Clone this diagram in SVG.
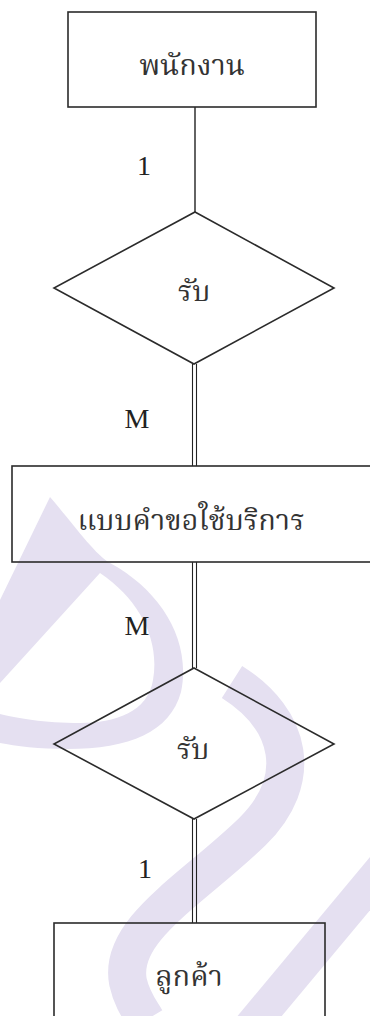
<svg xmlns="http://www.w3.org/2000/svg" width="370" height="1016" viewBox="0 0 370 1016">
<style>
.node{fill:none;stroke:#2b2b2b;stroke-width:1.6}
.conn{stroke:#222;stroke-width:1.4;fill:none}
.dbl{stroke:#222;stroke-width:1.1;fill:none}
.th{font-family:"Noto Serif Thai","Liberation Serif","Noto Sans CJK SC",serif;font-size:29px;fill:#333;text-anchor:middle}
.lbl{font-family:"Liberation Serif",serif;font-size:28px;fill:#222;text-anchor:middle}
.wm{fill:none;stroke:#e5e0f1;stroke-linecap:butt}
</style>
<rect width="370" height="1016" fill="#fff"/>
<g id="watermark">
<path d="M50,497 C70,520 95,555 110,563 C160,590 192,640 181,692 C170,732 130,749 67,749 C40,749 15,746 0,743 L0,600 Z M100,573 C140,600 160,640 153,680 C148,712 115,723 80,723 C45,723 15,718 0,714 L0,683 Z" fill="#e5e0f1" fill-rule="evenodd"/>
<path class="wm" stroke-width="38" d="M232,682 C292,720 305,780 252,832 C192,890 118,930 128,982 C132,1000 140,1010 146,1020"/>
<path class="wm" stroke-width="34" d="M388,862 L248,1030"/>
</g>
<g id="connectors">
<line class="conn" x1="195" y1="107" x2="195" y2="212"/>
<line class="dbl" x1="192.5" y1="364" x2="192.5" y2="466"/>
<line class="dbl" x1="196.5" y1="364" x2="196.5" y2="466"/>
<line class="dbl" x1="192.5" y1="562" x2="192.5" y2="668"/>
<line class="dbl" x1="196.5" y1="562" x2="196.5" y2="668"/>
<line class="dbl" x1="192.5" y1="819" x2="192.5" y2="923"/>
<line class="dbl" x1="196.5" y1="819" x2="196.5" y2="923"/>
<text class="lbl" x="144" y="175">1</text>
<text class="lbl" x="137" y="428">M</text>
<text class="lbl" x="137" y="635">M</text>
<text class="lbl" x="145" y="878">1</text>
</g>
<g id="employee">
<rect class="node" x="68" y="12" width="248" height="95"/>
<text class="th" x="192" y="75">พนักงาน</text>
</g>
<g id="receive1">
<polygon class="node" points="195,212 334,288 194,364 54,288"/>
<text class="th" x="194" y="301">รับ</text>
</g>
<g id="request_form">
<rect class="node" x="12" y="466" width="362" height="96"/>
<text class="th" x="191" y="530">แบบคำขอใช้บริการ</text>
</g>
<g id="receive2">
<polygon class="node" points="194,668 334,744 194,819 54,744"/>
<text class="th" x="193" y="759">รับ</text>
</g>
<g id="customer">
<rect class="node" x="54" y="923" width="271" height="110"/>
<text class="th" x="189" y="986">ลูกค้า</text>
</g>
</svg>
